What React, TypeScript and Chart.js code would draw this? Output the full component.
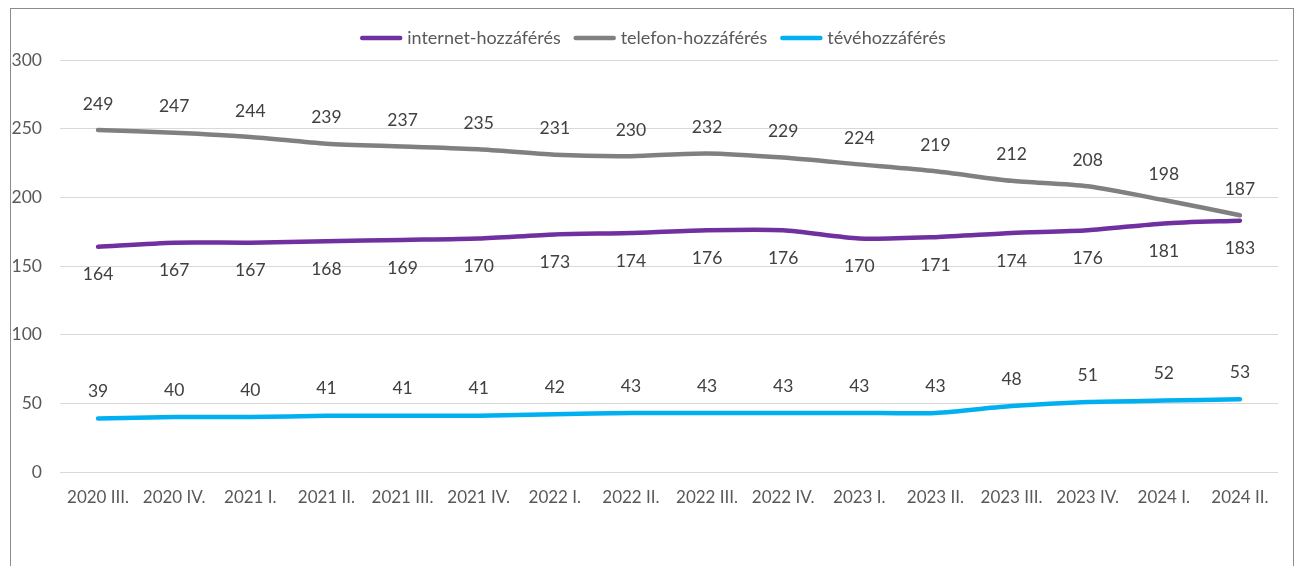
import React, { useEffect, useRef } from "react";
import { Chart, registerables } from "chart.js";

Chart.register(...registerables);

const categories = [
  "2020 III.", "2020 IV.", "2021 I.", "2021 II.", "2021 III.", "2021 IV.",
  "2022 I.", "2022 II.", "2022 III.", "2022 IV.", "2023 I.", "2023 II.",
  "2023 III.", "2023 IV.", "2024 I.", "2024 II.",
];
const internet = [164, 167, 167, 168, 169, 170, 173, 174, 176, 176, 170, 171, 174, 176, 181, 183];
const telefon = [249, 247, 244, 239, 237, 235, 231, 230, 232, 229, 224, 219, 212, 208, 198, 187];
const teve = [39, 40, 40, 41, 41, 41, 42, 43, 43, 43, 43, 43, 48, 51, 52, 53];
const seriesNames = ["internet-hozzáférés", "telefon-hozzáférés", "tévéhozzáférés"];
const seriesColors = ["#7030A0", "#808080", "#00B0F0"];
const labelOffsets = [28, -26, -27];
const labelBoxes = [false, false, true];
const yTicks = [0, 50, 100, 150, 200, 250, 300];

const FONT = "Lato, 'Open Sans', sans-serif";
const TEXT = "#595959";

const framePlugin = {
  id: "frame",
  beforeDraw(chart: any) {
    const ctx = chart.ctx;
    ctx.save();
    ctx.fillStyle = "#ffffff";
    ctx.fillRect(0, 0, chart.width, chart.height);
    ctx.strokeStyle = "#8c8c8c";
    ctx.lineWidth = 1;
    ctx.strokeRect(10.5, 8.5, 1283, 700);
    ctx.restore();
  },
};

const legendPlugin = {
  id: "customLegend",
  afterDraw(chart: any) {
    const ctx = chart.ctx;
    ctx.save();
    ctx.font = `18px ${FONT}`;
    const lineW = 42;
    const gap = 5;
    const itemGap = 13;
    const widths = seriesNames.map((n) => ctx.measureText(n).width);
    const total = widths.reduce((a, w) => a + lineW + gap + w, 0) + itemGap * (seriesNames.length - 1);
    let x = 653 - total / 2;
    const y = 38;
    seriesNames.forEach((n, i) => {
      ctx.strokeStyle = seriesColors[i];
      ctx.lineWidth = 4.5;
      ctx.lineCap = "round";
      ctx.beginPath();
      ctx.moveTo(x + 2, y);
      ctx.lineTo(x + lineW - 2, y);
      ctx.stroke();
      x += lineW + gap;
      ctx.fillStyle = TEXT;
      ctx.textBaseline = "middle";
      ctx.textAlign = "left";
      ctx.fillText(n, x, y);
      x += widths[i] + itemGap;
    });
    ctx.restore();
  },
};

const labelPlugin = {
  id: "valueLabels",
  afterDatasetsDraw(chart: any) {
    const ctx = chart.ctx;
    ctx.save();
    ctx.font = `17.5px ${FONT}`;
    ctx.textAlign = "center";
    ctx.textBaseline = "middle";
    chart.data.datasets.forEach((ds: any, di: number) => {
      const meta = chart.getDatasetMeta(di);
      meta.data.forEach((pt: any, i: number) => {
        const txt = String(ds.data[i]);
        const x = pt.x;
        const y = pt.y + labelOffsets[di];
        const w = ctx.measureText(txt).width + 12;
        if (labelBoxes[di]) {
          ctx.fillStyle = "#ffffff";
          ctx.fillRect(x - w / 2, y - 11, w, 22);
        }
        ctx.fillStyle = "#404040";
        ctx.fillText(txt, x, y);
      });
    });
    ctx.restore();
  },
};

export default function App() {
  const ref = useRef<HTMLCanvasElement | null>(null);
  useEffect(() => {
    if (!ref.current) return;
    const datasets = [internet, telefon, teve].map((d, i) => ({
      label: seriesNames[i],
      data: d,
      borderColor: seriesColors[i],
      backgroundColor: seriesColors[i],
      borderWidth: 4.5,
      pointRadius: 0,
      tension: 0.25,
      borderCapStyle: "round" as const,
      fill: false,
    }));
    const chart = new Chart(ref.current, {
      type: "line",
      data: { labels: categories, datasets },
      options: {
        animation: false,
        responsive: false,
        maintainAspectRatio: false,
        layout: { padding: { top: 60, right: 19, bottom: 0, left: 0 } },
        plugins: { legend: { display: false }, tooltip: { enabled: false } },
        scales: {
          x: {
            offset: true,
            grid: { display: false, drawTicks: false },
            border: { display: false },
            ticks: { color: TEXT, font: { family: FONT, size: 17 }, padding: 15, maxRotation: 0, autoSkip: false },
            afterFit: (s: any) => { s.height = 94; },
          },
          y: {
            min: 0,
            max: 300,
            afterBuildTicks: (s: any) => { s.ticks = yTicks.map((v) => ({ value: v })); },
            grid: { color: "#d9d9d9", lineWidth: 1, drawTicks: false },
            border: { display: false },
            ticks: { color: TEXT, font: { family: FONT, size: 17.5 }, padding: 18 },
            afterFit: (s: any) => { s.width = 60; },
          },
        },
      },
      plugins: [framePlugin, legendPlugin, labelPlugin],
    });
    return () => chart.destroy();
  }, []);
  return (
    <div style={{ position: "absolute", left: 0, top: 0, width: 1297, height: 566 }}>
      <canvas ref={ref} width={1297} height={566} style={{ display: "block" }} />
    </div>
  );
}
